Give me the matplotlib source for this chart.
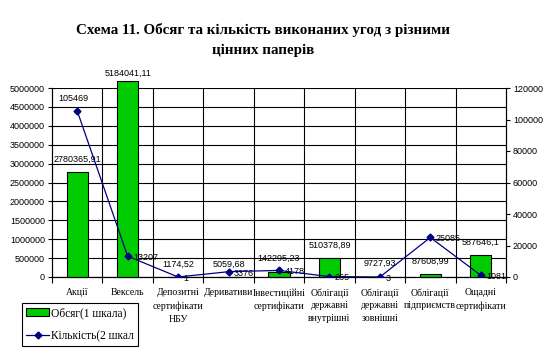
import numpy as np
import matplotlib.pyplot as plt
from matplotlib.patches import Patch
from matplotlib.lines import Line2D

plt.rcParams['font.family'] = ['Liberation Serif', 'DejaVu Serif']

categories = ["Акції", "Вексель", "Депозитні\nсертифікати\nНБУ", "Деривативи",
              "Інвестиційні\nсертифікати", "Облігації\nдержавні\nвнутрішні",
              "Облігації\nдержавні\nзовнішні", "Облігації\nпідприємств",
              "Ощадні\nсертифікати"]
volume = [2780365.91, 5184041.11, 1174.52, 5059.68, 142295.23, 510378.89,
          9727.93, 87608.99, 587646.1]
volume_labels = ["2780365,91", "5184041,11", "1174,52", "5059,68", "142295,23",
                 "510378,89", "9727,93", "87608,99", "587646,1"]
count = [105469, 13207, 1, 3376, 4178, 265, 3, 25085, 1081]
count_labels = ["105469", "13207", "1", "3376", "4178", "265", "3", "25085", "1081"]

num_font = ['Liberation Sans Narrow', 'Liberation Sans', 'DejaVu Sans']

fig = plt.figure(figsize=(5.44, 3.53), dpi=100)
ax = fig.add_axes([52/544, 1-277/353, 454/544, 189/353])
ax2 = ax.twinx()

x = np.arange(len(categories))
ax.bar(x, volume, width=0.42, color='#00cc00', edgecolor='black',
       linewidth=0.8, zorder=3, clip_on=False)
ax.set_xlim(-0.5, len(categories)-0.5)
ax.set_ylim(0, 5000000)
ticks = np.arange(0, 5000001, 500000)
ax.set_yticks(ticks)
ax.set_yticklabels([str(int(v)) for v in ticks], family=num_font, fontsize=6.5)
ax.grid(axis='y', color='black', linewidth=0.8, zorder=0)
for b in np.arange(0.5, len(categories)-1, 1):
    ax.axvline(b, color='black', linewidth=0.8, zorder=0)
ax.set_xticks(np.arange(-0.5, len(categories), 1))
ax.set_xticklabels([])
ax.set_xticks(x, minor=True)
ax.set_xticklabels(categories, minor=True, fontsize=7, linespacing=1.55, va='top')
ax.tick_params(axis='x', which='minor', length=0, pad=8)
ax.tick_params(axis='x', which='major', length=4, color='black')
ax.tick_params(axis='y', length=3, pad=2)
ax.spines['top'].set_visible(False)
ax2.spines['top'].set_visible(False)

for xi, v, lab in zip(x, volume, volume_labels):
    top = min(v, 5050000)
    ax.annotate(lab, (xi, top), xytext=(0, 6), textcoords='offset points',
                ha='center', va='bottom', family=num_font, fontsize=6.5,
                annotation_clip=False)

ax2.plot(x, count, color='#000080', linewidth=0.9, marker='D', markersize=3.5,
         zorder=4)
ax2.set_ylim(0, 120000)
rticks = list(range(0, 120001, 20000))
ax2.set_yticks(rticks)
ax2.set_yticklabels([str(v) for v in rticks], family=num_font, fontsize=6.5)
ax2.tick_params(axis='y', length=3, pad=2)

for i, (xi, c, lab) in enumerate(zip(x, count, count_labels)):
    if i == 0:
        ax2.annotate(lab, (xi, c), xytext=(-3, 6), textcoords='offset points',
                     ha='center', va='bottom', family=num_font, fontsize=6.5)
    else:
        ax2.annotate(lab, (xi, c), xytext=(4, -1), textcoords='offset points',
                     ha='left', va='center', family=num_font, fontsize=6.5)

fig.text(0.483, 1-30/353, "Схема 11. Обсяг та кількість виконаних угод з різними",
         ha='center', va='center', fontsize=10.8, fontweight='bold')
fig.text(0.483, 1-50/353, "цінних паперів",
         ha='center', va='center', fontsize=10.8, fontweight='bold')

handles = [Patch(facecolor='#00cc00', edgecolor='black', linewidth=0.8),
           Line2D([], [], color='#000080', marker='D', markersize=3.5, linewidth=0.9)]
leg = fig.legend(handles, ['Обсяг(1 шкала)', 'Кількість(2 шкал'],
                 loc='upper left', bbox_to_anchor=(22/544, 1-303/353),
                 fancybox=False, edgecolor='black', framealpha=1, fontsize=8.3,
                 handlelength=2.0, borderpad=0.35, labelspacing=0.95,
                 handletextpad=0.15, borderaxespad=0)
leg.get_frame().set_linewidth(0.8)

fig.savefig('out.png', dpi=100)
